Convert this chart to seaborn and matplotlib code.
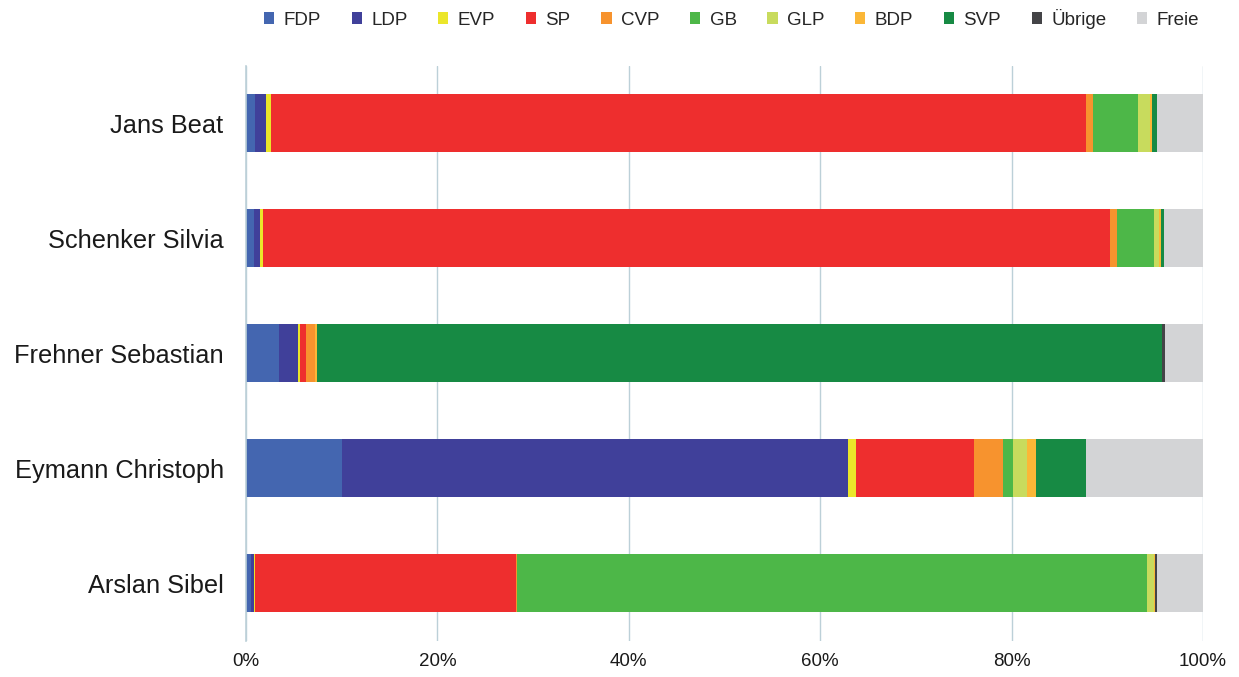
import pandas as pd
import numpy as np
import matplotlib
matplotlib.use('Agg')
import matplotlib.pyplot as plt
from matplotlib.patches import Patch
import seaborn as sns

# Kandidaten und Parteien
kandidaten = ['Jans Beat', 'Schenker Silvia', 'Frehner Sebastian', 'Eymann Christoph', 'Arslan Sibel']
parteien = ['FDP', 'LDP', 'EVP', 'SP', 'CVP', 'GB', 'GLP', 'BDP', 'SVP', 'Übrige', 'Freie']
farben = ['#4466B0', '#40409A', '#EBE62A', '#EE2E2E', '#F7932E', '#4DB748',
          '#C8DB5D', '#FBB737', '#178A44', '#444447', '#D3D4D6']

# Anteile in % (aus dem Bild geschaetzt)
FDP = [0.9, 0.8, 3.5, 10.0, 0.5]
LDP = [1.2, 0.7, 1.9, 52.9, 0.3]
EVP = [0.5, 0.3, 0.3, 0.8, 0.1]
SP = [85.3, 88.5, 0.6, 12.4, 27.3]
CVP = [0.7, 0.7, 0.9, 3.0, 0.2]
GB = [4.7, 3.9, 0.0, 1.0, 65.9]
GLP = [1.3, 0.5, 0.0, 1.5, 0.7]
BDP = [0.2, 0.2, 0.2, 1.0, 0.1]
SVP = [0.5, 0.3, 88.3, 5.2, 0.0]
Uebrige = [0.0, 0.0, 0.3, 0.0, 0.2]
Freie = [4.8, 4.1, 4.0, 12.2, 4.8]

data = pd.DataFrame({'FDP': FDP, 'LDP': LDP, 'EVP': EVP, 'SP': SP, 'CVP': CVP, 'GB': GB,
                     'GLP': GLP, 'BDP': BDP, 'SVP': SVP, 'Übrige': Uebrige, 'Freie': Freie},
                    index=kandidaten)
# auf 100% normieren
data = data.div(data.sum(axis=1), axis=0) * 100
kumuliert = data.cumsum(axis=1)
kumuliert['Kandidat'] = kandidaten

sns.set_theme(style='white')
plt.rcParams['font.family'] = ['Liberation Sans', 'DejaVu Sans']

fig = plt.figure(figsize=(12.39, 6.77), dpi=100)
ax = fig.add_axes([0.1985, 0.0539, 0.7724, 0.8493])

# gestapelt: von hinten nach vorne zeichnen
for partei, farbe in reversed(list(zip(parteien, farben))):
    sns.barplot(data=kumuliert, x=partei, y='Kandidat', color=farbe, saturation=1,
                width=0.5, orient='h', linewidth=0, ax=ax)

ax.set_xlim(0, 100)
ax.set_ylim(4.5, -0.5)
ax.set_xticks([0, 20, 40, 60, 80, 100])
ax.set_xticklabels(['0%', '20%', '40%', '60%', '80%', '100%'], fontsize=13.5, color='#1a1a1a')
ax.tick_params(axis='y', labelsize=18.3, labelcolor='#1a1a1a', length=0, pad=16)
ax.tick_params(axis='x', length=0, pad=9)
ax.set_xlabel('')
ax.set_ylabel('')
ax.grid(axis='x', color='#BCD0D8', linewidth=1)
ax.set_axisbelow(True)
for s in ['top', 'right', 'bottom']:
    ax.spines[s].set_visible(False)
ax.spines['left'].set_color('#BCD0D8')
ax.spines['left'].set_linewidth(1.2)

handles = [Patch(facecolor=f, edgecolor='none', label=p) for p, f in zip(parteien, farben)]
fig.legend(handles=handles, loc='upper center', bbox_to_anchor=(0.5905, 1.012), ncol=11,
           frameon=False, fontsize=13.5, handlelength=0.55, handleheight=0.55,
           handletextpad=0.5, columnspacing=1.63)

fig.savefig('out.png', dpi=100)
